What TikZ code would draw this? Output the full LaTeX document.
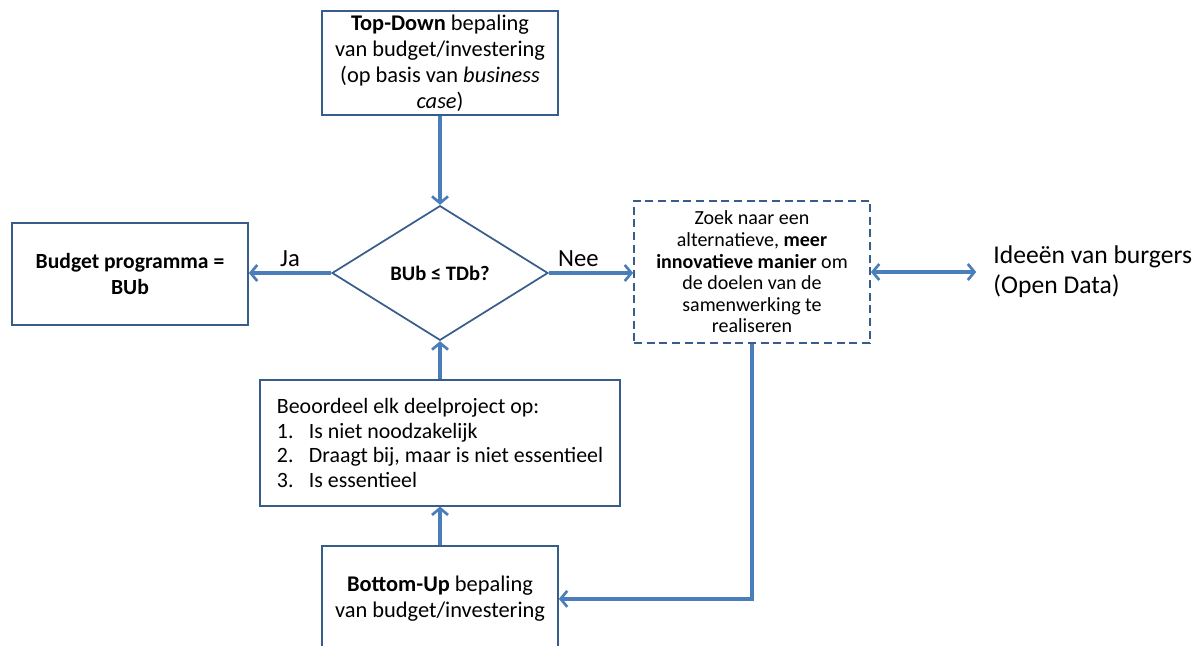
\documentclass[tikz,border=0pt]{standalone}
\usepackage{fontspec}
\setmainfont{Carlito}
\usetikzlibrary{positioning,arrows.meta,shapes.geometric}

\definecolor{boxblue}{RGB}{56,93,138}
\definecolor{arrowblue}{RGB}{74,126,187}

\begin{document}
\begin{tikzpicture}[
    x=0.75pt,
    y=-0.75pt,
    font=\fontsize{16.8}{19.5}\selectfont,
    block/.style={
        draw=boxblue,
        line width=1.3pt,
        minimum width=177pt,
        minimum height=77pt,
        align=center,
        inner sep=3pt
    },
    decision/.style={
        diamond,
        draw=boxblue,
        line width=1.3pt,
        minimum width=162pt,
        minimum height=101pt,
        inner sep=0pt,
        font=\fontsize{15.4}{18}\selectfont\bfseries
    },
    altbox/.style={block, dash pattern=on 6pt off 3.5pt, minimum height=107pt,
        font=\fontsize{15}{16.2}\selectfont},
    tip/.tip={Straight Barb[length=5pt, width=12pt, line width=2pt]},
    arrow/.style={-tip, draw=arrowblue, line width=3pt},
    label/.style={font=\fontsize{18.5}{20}\selectfont, text=black}
]
\useasboundingbox (0,0) rectangle (1196,646);

% ============================================================
% TOP-DOWN EN BESLISSING
% ============================================================
\node[block] (td) at (440,63) {\textbf{Top-Down} bepaling\\van budget/investering\\(op basis van \textit{business}\\\textit{case})};
\node[decision] (chk) at (440,273) {BUb ≤ TDb?};
\node[block, minimum height=76.5pt, font=\fontsize{16.2}{19.5}\selectfont] (bud) at (130,274)
    {\textbf{Budget programma =}\\\textbf{BUb}};

\draw[arrow] (td) -- (chk);
\draw[arrow] (chk.west) -- node[label, above] {Ja} (chk.west -| bud.east);

% ============================================================
% ALTERNATIEF
% ============================================================
\node[altbox] (alt) at (752,272) {Zoek naar een\\alternatieve, \textbf{meer}\\\textbf{innovatieve manier} om\\de doelen van de\\samenwerking te\\realiseren};
\node[right=79pt of alt, align=left, inner xsep=12.75pt,
      font=\fontsize{19.2}{22.5}\selectfont] (idea) {Ideeën van burgers\\(Open Data)};

\draw[arrow] (chk.east) -- node[label, above, pos=0.35] {Nee} (chk.east -| alt.west);
\draw[arrow, tip-tip] (alt) -- (idea);

% ============================================================
% BOTTOM-UP
% ============================================================
\node[block, minimum width=270pt, minimum height=94pt, align=left,
      font=\fontsize{16.4}{18.3}\selectfont] (eval) at (440,443) {Beoordeel elk deelproject op:\\
\makebox[24pt][l]{1.}Is niet noodzakelijk\\
\makebox[24pt][l]{2.}Draagt bij, maar is niet essentieel\\
\makebox[24pt][l]{3.}Is essentieel};
\node[block, minimum height=79.5pt, anchor=north] (bu) at (440,545) {\textbf{Bottom-Up} bepaling\\van budget/investering};

\draw[arrow] (eval) -- (chk);
\draw[arrow] (bu) -- (eval);
\draw[arrow] (alt) |- (bu);

\end{tikzpicture}
\end{document}
